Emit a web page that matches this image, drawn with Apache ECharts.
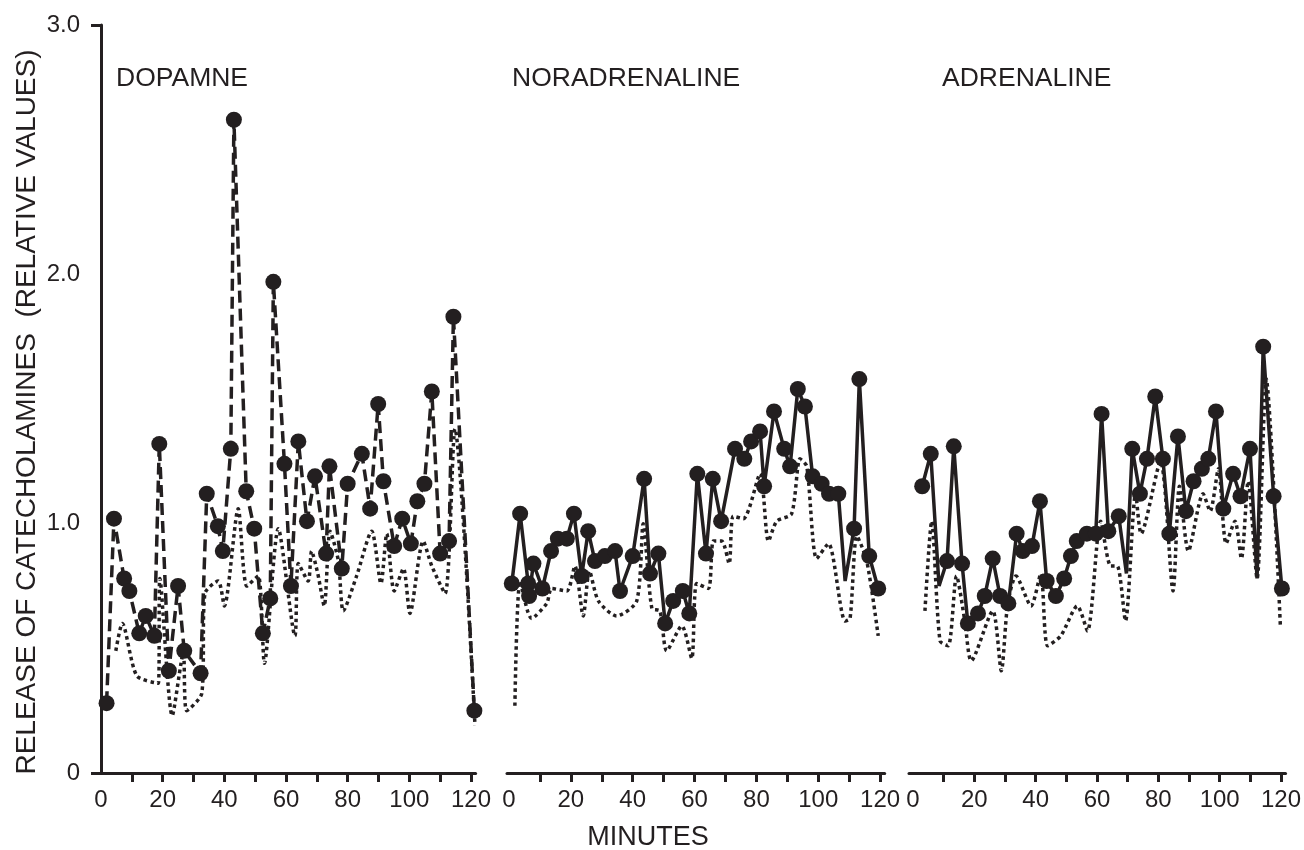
<!DOCTYPE html>
<html>
<head>
<meta charset="utf-8">
<script src="https://cdn.jsdelivr.net/npm/echarts@6/dist/echarts.min.js"></script>
<style>html,body{margin:0;padding:0;background:#fff}#c{width:1304px;height:850px}</style>
</head>
<body>
<div id="c"></div>
<script>
// ---------- DATA ----------
const panelTitles = ['DOPAMNE', 'NORADRENALINE', 'ADRENALINE'];
const xTickValues = [10, 20, 30, 40, 50, 60, 70, 80, 90, 100, 110, 120];
const xLabelValues = [0, 20, 40, 60, 80, 100, 120];
const yLabelValues = [0, 1, 2, 3];
const yTickValues = [0, 3];

// Dopamine: marked series (dashed) [minute, value]
const dopamineMain = [
  [1.8,0.28],[4.2,1.02],[7.5,0.78],[9.2,0.73],[12.4,0.56],[14.5,0.63],[17.3,0.55],[18.9,1.32],
  [22.0,0.41],[25.0,0.75],[27.0,0.49],[32.3,0.40],[34.3,1.12],[37.9,0.99],[39.5,0.89],[42.1,1.30],
  [43.1,2.62],[47.1,1.13],[49.7,0.98],[52.5,0.56],[54.9,0.70],[55.9,1.97],[59.5,1.24],[61.6,0.75],
  [64.0,1.33],[66.8,1.01],[69.4,1.19],[73.0,0.88],[74.1,1.23],[78.1,0.82],[80.0,1.16],[84.6,1.28],
  [87.3,1.06],[89.9,1.48],[91.6,1.17],[95.1,0.91],[97.7,1.02],[100.5,0.92],[102.6,1.09],[104.9,1.16],
  [107.3,1.53],[110.0,0.88],[112.9,0.93],[114.3,1.83],[121.1,0.25]
];
// Dopamine: dotted series
const dopamineDotted = [
  [4.8,0.49],[6.9,0.60],[11.6,0.39],[18.6,0.36],[19.1,0.78],[23.1,0.23],[26.7,0.48],[27.8,0.25],
  [32.7,0.32],[33.7,0.72],[38.0,0.77],[40.0,0.67],[44.5,1.06],[47.3,0.75],[51.0,0.79],[53.0,0.44],
  [57.5,0.98],[62.9,0.55],[64.0,0.84],[67.2,0.77],[68.3,0.89],[70.3,0.80],[72.4,0.67],[74.3,0.97],
  [77.0,0.85],[78.6,0.65],[82.9,0.79],[87.8,0.97],[90.8,0.76],[92.7,0.96],[95.1,0.73],[98.1,0.82],
  [100.2,0.64],[104.5,0.93],[107.3,0.83],[111.6,0.72],[114.8,1.38],[121.3,0.19]
];

// Noradrenaline: marked series (solid)
const noradrenalineMain = [
  [0.9,0.76],[3.6,1.04],[6.2,0.76],[6.5,0.71],[7.9,0.84],[10.8,0.74],[13.6,0.89],[15.8,0.94],
  [18.7,0.94],[21.0,1.04],[23.5,0.79],[25.6,0.97],[27.8,0.85],[31.0,0.87],[34.3,0.89],[35.9,0.73],
  [40.0,0.87],[43.7,1.18],[45.6,0.80],[48.3,0.88],[50.5,0.60],[53.1,0.69],[56.2,0.73],[58.3,0.64],
  [60.9,1.20],[63.7,0.88],[65.9,1.18],[68.6,1.01],[73.1,1.30],[76.1,1.26],[78.3,1.33],[81.2,1.37],
  [82.5,1.15],[85.7,1.45],[89.0,1.30],[90.9,1.23],[93.4,1.54],[95.7,1.47],[98.2,1.19],[101.1,1.16],
  [103.5,1.12],[106.5,1.12],[108.7,0.77],[111.6,0.98],[113.3,1.58],[116.5,0.87],[119.4,0.74]
];
const noradrenalineUnmarked = [108.7];
const noradrenalineDotted = [
  [1.9,0.27],[3.6,0.77],[7.3,0.62],[12.2,0.68],[13.8,0.74],[18.7,0.73],[21.3,0.83],[24.0,0.63],
  [26.0,0.81],[28.9,0.69],[34.8,0.63],[41.3,0.69],[43.4,1.00],[46.2,0.66],[48.8,0.65],[51.0,0.49],
  [55.9,0.59],[59.1,0.46],[60.7,0.76],[64.5,0.74],[66.1,0.93],[68.8,0.93],[71.2,0.84],[72.5,1.03],
  [75.8,1.02],[81.2,1.20],[83.9,0.93],[86.6,1.01],[91.4,1.04],[94.1,1.26],[96.3,1.23],[99.5,0.86],
  [103.3,0.92],[108.7,0.61],[110.3,0.62],[112.5,0.95],[115.7,0.85],[119.4,0.55]
];

// Adrenaline: marked series (solid)
const adrenalineMain = [
  [3.0,1.15],[5.8,1.28],[8.5,0.75],[11.1,0.85],[13.3,1.31],[16.0,0.84],[17.9,0.60],[21.2,0.64],
  [23.4,0.71],[26.0,0.86],[28.4,0.71],[31.1,0.68],[33.8,0.96],[35.8,0.89],[38.8,0.91],[41.4,1.09],
  [43.6,0.77],[46.6,0.71],[49.3,0.78],[51.5,0.87],[53.4,0.93],[56.7,0.96],[59.6,0.96],[61.5,1.44],
  [63.7,0.97],[67.1,1.03],[69.6,0.80],[71.5,1.30],[74.0,1.12],[76.3,1.26],[79.0,1.51],[81.5,1.26],
  [83.6,0.96],[86.4,1.35],[89.0,1.05],[91.5,1.17],[94.2,1.22],[96.3,1.26],[98.8,1.45],[101.2,1.06],
  [104.4,1.20],[106.8,1.11],[109.9,1.30],[112.2,0.78],[114.2,1.71],[117.6,1.11],[120.3,0.74]
];
const adrenalineUnmarked = [8.5, 69.6, 112.2];
const adrenalineDotted = [
  [3.9,0.65],[6.1,1.01],[8.8,0.53],[11.5,0.51],[14.2,0.79],[16.9,0.61],[19.0,0.45],[26.0,0.65],
  [28.8,0.41],[30.9,0.68],[33.6,0.79],[38.5,0.67],[41.7,0.80],[43.9,0.51],[48.2,0.55],[53.6,0.67],
  [56.9,0.57],[61.2,1.01],[64.5,0.83],[66.6,0.83],[69.3,0.61],[72.6,1.12],[74.4,0.96],[80.7,1.25],
  [84.8,0.73],[86.9,1.15],[89.8,0.89],[94.6,1.12],[96.9,1.05],[99.6,1.22],[102.1,0.92],[105.0,1.01],
  [107.1,0.86],[109.3,1.17],[112.2,0.78],[115.2,1.58],[119.8,0.59]
];

// ---------- CHART ----------
const INK = '#231f20';
const FONT = '"Liberation Sans", Arial, sans-serif';

function marked(data, unmarked) {
  return data.map(p => unmarked.indexOf(p[0]) >= 0 ? {value: p, symbol: 'none'} : {value: p});
}

const grids = [
  {left: 93, top: 25, width: 382.6, height: 748},
  {left: 507, top: 25, width: 377.7, height: 748},
  {left: 909, top: 25, width: 378.6, height: 748}
];
const xMins = [-2.6, -0.65, -1.3];

const xAxes = grids.map((g, i) => ({
  type: 'value', gridIndex: i, min: xMins[i], max: 121.5,
  splitLine: {show: false},
  axisLine: {show: true, onZero: false, lineStyle: {color: INK, width: 3}},
  axisTick: {show: true, customValues: xTickValues, length: 9, lineStyle: {color: INK, width: 3}},
  axisLabel: {show: true, customValues: xLabelValues, color: INK, fontSize: 24, fontFamily: FONT, margin: 15}
}));

const yAxes = grids.map((g, i) => ({
  type: 'value', gridIndex: i, min: 0, max: 3, show: i === 0,
  splitLine: {show: false},
  axisLine: {show: i === 0, lineStyle: {color: INK, width: 3}},
  axisTick: {show: i === 0, customValues: yTickValues, length: 10, lineStyle: {color: INK, width: 3}},
  axisLabel: {show: i === 0, customValues: yLabelValues, color: INK, fontSize: 24, fontFamily: FONT, margin: 13,
    formatter: v => v === 0 ? '0' : v.toFixed(1)}
}));

function dottedSeries(data, i) {
  return {type: 'line', xAxisIndex: i, yAxisIndex: i, data: data, symbol: 'none', smooth: 0.25,
    lineStyle: {color: INK, width: 3.5, type: [3.5, 3.5]}, z: 2, silent: true, animation: false};
}
function mainSeries(data, i, dashed) {
  return {type: 'line', xAxisIndex: i, yAxisIndex: i, data: data, symbol: 'circle', symbolSize: 16,
    showAllSymbol: true, itemStyle: {color: INK},
    lineStyle: {color: INK, width: 3.5, type: dashed ? [12, 6] : 'solid'}, z: 3, silent: true, animation: false};
}

const option = {
  backgroundColor: '#fff',
  animation: false,
  grid: grids,
  xAxis: xAxes,
  yAxis: yAxes,
  series: [
    dottedSeries(dopamineDotted, 0),
    mainSeries(dopamineMain.map(p => ({value: p})), 0, true),
    dottedSeries(noradrenalineDotted, 1),
    mainSeries(marked(noradrenalineMain, noradrenalineUnmarked), 1, false),
    dottedSeries(adrenalineDotted, 2),
    mainSeries(marked(adrenalineMain, adrenalineUnmarked), 2, false)
  ],
  graphic: [
    {type: 'text', left: 116, top: 65, style: {text: panelTitles[0], fill: INK, font: '26.5px ' + FONT}},
    {type: 'text', left: 512, top: 65, style: {text: panelTitles[1], fill: INK, font: '26.5px ' + FONT}},
    {type: 'text', left: 942, top: 65, style: {text: panelTitles[2], fill: INK, font: '26.5px ' + FONT}},
    {type: 'text', x: 648, y: 838, style: {text: 'MINUTES', fill: INK, font: '27px ' + FONT, align: 'center', verticalAlign: 'middle'}},
    {type: 'text', x: 27, y: 412, rotation: Math.PI / 2,
      style: {text: 'RELEASE OF CATECHOLAMINES  (RELATIVE VALUES)', fill: INK, font: '28px ' + FONT, align: 'center', verticalAlign: 'middle'}}
  ]
};

const chart = echarts.init(document.getElementById('c'), null, {renderer: 'canvas'});
chart.setOption(option);
</script>
</body>
</html>
